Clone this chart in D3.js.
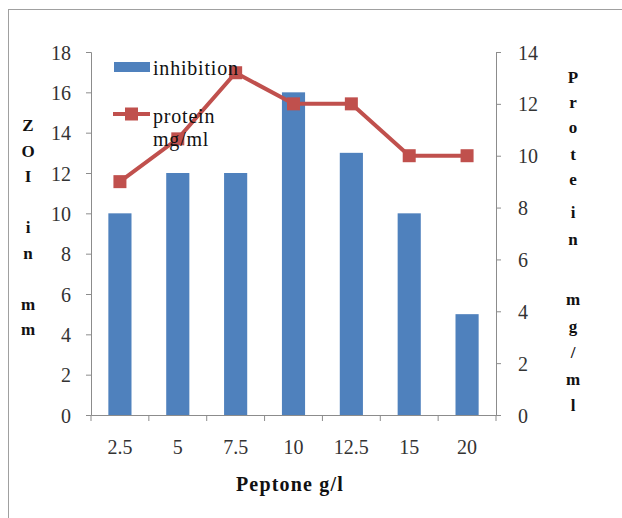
<!DOCTYPE html>
<html><head><meta charset="utf-8">
<script src="https://cdn.jsdelivr.net/npm/d3@7"></script>
<style>body{margin:0;background:#fff;} svg{display:block;}</style>
</head><body>
<script>
const categories = ["2.5","5","7.5","10","12.5","15","20"];
const inhibition = [10,12,12,16,13,10,5];
const protein = [9,10.65,13.2,12,12,10,10];
const leftTicks = [0,2,4,6,8,10,12,14,16,18];
const rightTicks = [0,2,4,6,8,10,12,14];
const leftTitle = ["Z","O","I","","i","n","","m","m"];
const rightTitle = ["P","r","o","t","e","i","n","m","g","/","m","l"];

const W=622,H=518;
const FF='"Liberation Serif"';
const svg=d3.select("body").append("svg").attr("width",W).attr("height",H);
svg.append("rect").attr("x",8.5).attr("y",9.5).attr("width",620).attr("height",520)
  .attr("fill","#fff").attr("stroke","#a0a0a0");

const x0=91,x1=496,yTop=52,yBot=415;
const x=d3.scaleBand().domain(categories).range([x0,x1]).paddingInner(0.6).paddingOuter(0.3);
const xb=d3.scaleBand().domain(categories).range([x0,x1]);
const yL=d3.scaleLinear().domain([0,18]).range([yBot,yTop]);
const yR=d3.scaleLinear().domain([0,14]).range([yBot,yTop]);
const axisColor="#8c8c8c";

svg.selectAll("rect.bar").data(inhibition).enter().append("rect")
  .attr("class","bar")
  .attr("x",(d,i)=>x(categories[i])).attr("width",x.bandwidth())
  .attr("y",d=>yL(d)).attr("height",d=>yBot-yL(d))
  .attr("fill","#4f81bd");

const gl=svg.append("g").attr("transform",`translate(${x0},0)`)
  .call(d3.axisLeft(yL).tickValues(leftTicks).tickSize(5).tickPadding(15));
const gr=svg.append("g").attr("transform",`translate(${x1},0)`)
  .call(d3.axisRight(yR).tickValues(rightTicks).tickSize(5).tickPadding(17));
const gx=svg.append("g").attr("transform",`translate(0,${yBot})`)
  .call(d3.axisBottom(xb).tickSize(0));
gx.selectAll(".tick line").remove();
gx.selectAll(".tick text").attr("y",39).attr("dy",0);
const bounds=categories.map(c=>xb(c)).concat([x1]);
gx.selectAll("line.bt").data(bounds).enter().append("line")
  .attr("x1",d=>d).attr("x2",d=>d).attr("y1",0).attr("y2",6).attr("stroke",axisColor);

[gl,gr,gx].forEach(g=>{
  g.selectAll("path.domain").attr("stroke",axisColor);
  g.selectAll(".tick line").attr("stroke",axisColor);
  g.selectAll("text").style("font-family",FF).style("font-size","20px").attr("fill","#333");
});
gl.selectAll(".tick text").attr("dy","0.35em");
gr.selectAll(".tick text").attr("dy","0.35em");

const line=d3.line().x((d,i)=>xb(categories[i])+xb.bandwidth()/2).y(d=>yR(d));
svg.append("path").datum(protein).attr("d",line).attr("fill","none")
  .attr("stroke","#c0504d").attr("stroke-width",4);
svg.selectAll("rect.mk").data(protein).enter().append("rect")
  .attr("x",(d,i)=>xb(categories[i])+xb.bandwidth()/2-6.5).attr("y",d=>yR(d)-6.5)
  .attr("width",13).attr("height",13).attr("fill","#c0504d");

function txt(x,y,s,size,bold,anchor){
  return svg.append("text").attr("x",x).attr("y",y).text(s)
    .style("font-family",FF).style("font-size",size+"px")
    .style("font-weight",bold?"bold":"normal").attr("text-anchor",anchor||"start").attr("fill","#111");
}
svg.append("rect").attr("x",114).attr("y",62).attr("width",36).attr("height",10).attr("fill","#4f81bd");
txt(153,75,"inhibition",20).attr("letter-spacing",0.8);
svg.append("line").attr("x1",113).attr("x2",150).attr("y1",114).attr("y2",114)
  .attr("stroke","#c0504d").attr("stroke-width",4);
svg.append("rect").attr("x",125).attr("y",107.5).attr("width",13).attr("height",13).attr("fill","#c0504d");
txt(153,123,"protein",20).attr("letter-spacing",0.8);
txt(153,146,"mg/ml",20).attr("letter-spacing",0.8);

leftTitle.forEach((d,i)=>{ if(d) txt(28,131+i*25.5,d,17,true,"middle"); });
const ry=[83,108,133,160,185,218,245,305,332,358,385,411];
rightTitle.forEach((d,i)=>txt(573,ry[i],d,17,true,"middle"));
txt(290,491,"Peptone g/l",20,true,"middle").attr("letter-spacing",1.2);
</script>
</body></html>
